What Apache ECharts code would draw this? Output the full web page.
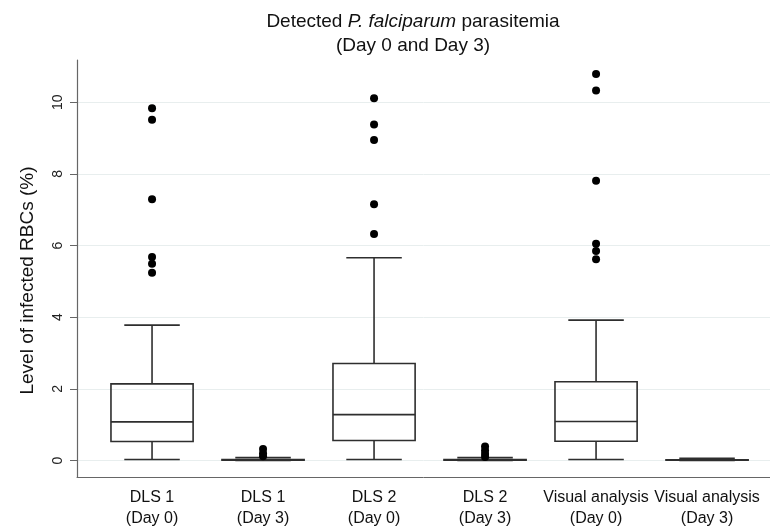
<!DOCTYPE html>
<html>
<head>
<meta charset="utf-8">
<script src="https://cdn.jsdelivr.net/npm/echarts@6/dist/echarts.min.js"></script>
<style>html,body{margin:0;padding:0;background:#fff;}#chart{width:770px;height:529px;}</style>
</head>
<body>
<div id="chart"></div>
<script>
// ---- data ----
const categories = ['DLS 1\n(Day 0)', 'DLS 1\n(Day 3)', 'DLS 2\n(Day 0)', 'DLS 2\n(Day 3)', 'Visual analysis\n(Day 0)', 'Visual analysis\n(Day 3)'];
const whiskerLow  = [0.03, 0.00, 0.03, 0.00, 0.03, 0.00];
const q1Values    = [0.53, 0.01, 0.56, 0.01, 0.54, 0.01];
const medians     = [1.08, 0.02, 1.28, 0.02, 1.09, 0.02];
const q3Values    = [2.14, 0.03, 2.71, 0.03, 2.20, 0.02];
const whiskerHigh = [3.78, 0.08, 5.66, 0.08, 3.92, 0.06];
const outliersDLS1Day0   = [9.83, 9.51, 7.29, 5.68, 5.49, 5.24];
const outliersDLS1Day3   = [0.32, 0.20, 0.12];
const outliersDLS2Day0   = [10.11, 9.38, 8.95, 7.15, 6.32];
const outliersDLS2Day3   = [0.39, 0.28, 0.18, 0.10];
const outliersVisualDay0 = [10.79, 10.33, 7.81, 6.05, 5.85, 5.62];
const outliersVisualDay3 = [];
const yTicks = [0, 2, 4, 6, 8, 10];

const outlierGroups = [outliersDLS1Day0, outliersDLS1Day3, outliersDLS2Day0, outliersDLS2Day3, outliersVisualDay0, outliersVisualDay3];
const positions = categories.map((c, i) => i + 1);
const boxData = positions.map((p, i) => [p, whiskerLow[i], q1Values[i], medians[i], q3Values[i], whiskerHigh[i]]);
const outlierData = [];
outlierGroups.forEach((g, i) => g.forEach(v => outlierData.push([positions[i], v])));

const FONT = "'Liberation Sans', Arial, Helvetica, sans-serif";
const BOX_W = 0.74, CAP_W = 0.5;
const LINE = { stroke: '#2e2e2e', lineWidth: 1.6, fill: null };

const chart = echarts.init(document.getElementById('chart'), null, { renderer: 'canvas' });
chart.setOption({
  animation: false,
  backgroundColor: '#fff',
  title: {
    left: 413, top: 10, textAlign: 'center', padding: 0,
    text: '{n|Detected }{i|P. falciparum}{n| parasitemia}\n{n|(Day 0 and Day 3)}',
    textStyle: {
      fontFamily: FONT, fontSize: 19, fontWeight: 'normal', color: '#111',
      rich: {
        n: { fontFamily: FONT, fontSize: 19, color: '#111', lineHeight: 24 },
        i: { fontFamily: FONT, fontSize: 19, color: '#111', fontStyle: 'italic', lineHeight: 24 }
      }
    }
  },
  grid: { left: 77, right: 0, top: 60, bottom: 49, containLabel: false },
  xAxis: {
    type: 'value', min: 0.324, max: 6.567,
    axisLine: { show: true, onZero: false, lineStyle: { color: '#666', width: 1 } },
    axisTick: { show: false },
    splitLine: { show: false },
    axisLabel: {
      customValues: positions,
      formatter: v => categories[Math.round(v) - 1] || '',
      fontFamily: FONT, fontSize: 16, color: '#111', lineHeight: 21, margin: 10
    }
  },
  yAxis: {
    type: 'value', min: -0.46, max: 11.18,
    name: 'Level of infected RBCs (%)', nameLocation: 'middle', nameGap: 40, nameRotate: 90,
    nameTextStyle: { fontFamily: FONT, fontSize: 19, color: '#111', padding: [0, 24, 0, 0] },
    axisLine: { show: true, lineStyle: { color: '#666', width: 1.2 } },
    axisTick: { show: true, customValues: yTicks, length: 7, lineStyle: { color: '#666' } },
    axisLabel: { customValues: yTicks, rotate: 90, fontFamily: FONT, fontSize: 14, color: '#222', margin: 12 },
    splitLine: { show: true, lineStyle: { color: '#e8eeee', width: 1 } }
  },
  series: [
    {
      type: 'custom',
      data: boxData,
      encode: { x: 0, y: [1, 2, 3, 4, 5] },
      renderItem: function (params, api) {
        const x = api.value(0);
        const lo = api.value(1), q1 = api.value(2), md = api.value(3), q3 = api.value(4), hi = api.value(5);
        const pL = api.coord([x - BOX_W / 2, q3]);
        const pR = api.coord([x + BOX_W / 2, q1]);
        const cL = api.coord([x - CAP_W / 2, lo])[0];
        const cR = api.coord([x + CAP_W / 2, lo])[0];
        const cx = api.coord([x, 0])[0];
        const yLo = api.coord([x, lo])[1], yQ1 = api.coord([x, q1])[1], yMd = api.coord([x, md])[1];
        const yQ3 = api.coord([x, q3])[1], yHi = api.coord([x, hi])[1];
        return {
          type: 'group',
          children: [
            { type: 'line', shape: { x1: cx, y1: yQ3, x2: cx, y2: yHi }, style: LINE },
            { type: 'line', shape: { x1: cx, y1: yQ1, x2: cx, y2: yLo }, style: LINE },
            { type: 'line', shape: { x1: cL, y1: yHi, x2: cR, y2: yHi }, style: LINE },
            { type: 'line', shape: { x1: cL, y1: yLo, x2: cR, y2: yLo }, style: LINE },
            { type: 'rect', shape: { x: pL[0], y: pL[1], width: pR[0] - pL[0], height: Math.max(pR[1] - pL[1], 0.5) }, style: LINE },
            { type: 'line', shape: { x1: pL[0], y1: yMd, x2: pR[0], y2: yMd }, style: LINE }
          ]
        };
      },
      z: 2
    },
    {
      type: 'scatter',
      data: outlierData,
      symbol: 'circle', symbolSize: 8,
      itemStyle: { color: '#000', opacity: 1 },
      z: 3
    }
  ]
});
</script>
</body>
</html>
